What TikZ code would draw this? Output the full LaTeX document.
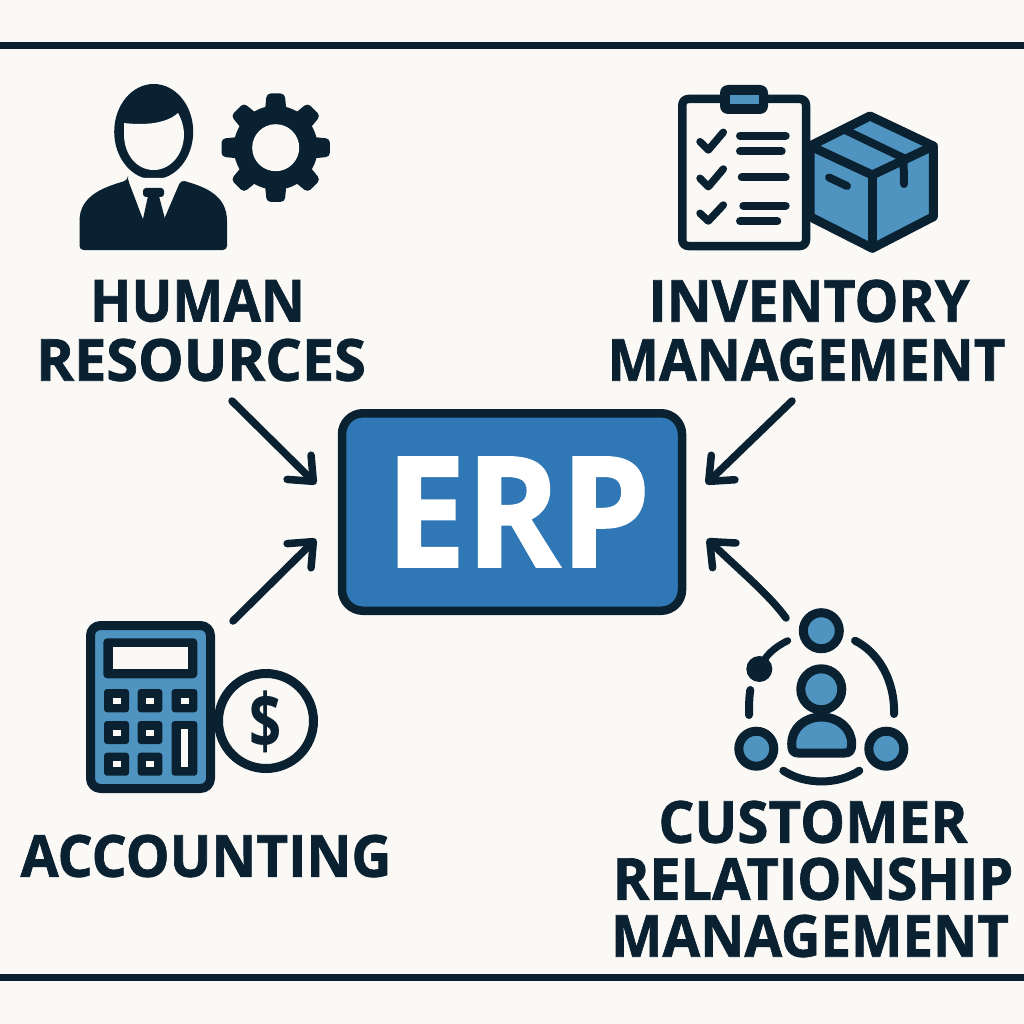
\documentclass[tikz,border=0pt]{standalone}
\usepackage{fontspec}
\setmainfont{Open Sans}
\newfontfamily\heavy[BoldFeatures={FakeBold=1.2}]{Open Sans}
\usetikzlibrary{arrows.meta}
\definecolor{bgc}{HTML}{FBF9F6}
\definecolor{ink}{HTML}{0A2131}
\definecolor{erpblue}{HTML}{2F78B5}
\definecolor{iconblue}{HTML}{4F94C0}
\newcommand\hs[2]{\scalebox{#1}[1]{#2}}
\tikzset{
  lab/.style={font=\fontsize{58}{60}\selectfont\heavy\bfseries, text=ink, inner sep=0pt, anchor=center},
  conn/.style={draw=ink, line width=7.5pt, line cap=round, line join=round, -{Straight Barb[length=20pt,width=34pt,line width=7.5pt,round]}},
  stk/.style={draw=ink, line cap=round, line join=round},
}
\begin{document}
\begin{tikzpicture}[x=1pt,y=-1pt]
\useasboundingbox (0,0) rectangle (1024,1024);
\fill[bgc] (0,0) rectangle (1024,1024);
\fill[ink] (0,42.5) rectangle (1024,49.5);
\fill[ink] (0,973.5) rectangle (1024,980.5);

% ERP box
\node[draw=ink, line width=8.5pt, fill=erpblue, rounded corners=21pt, minimum width=340pt, minimum height=197.5pt, inner sep=0pt, text=white, font=\fontsize{154}{156}\selectfont\heavy\bfseries] (erp) at (512,512) {\hspace*{12pt}\raisebox{-2.5pt}{\hs{0.93}{ERP}}};

% labels
\node[lab] (hr1) at (197.5,301) {\hs{0.934}{HUMAN}};
\node[lab] (hr2) at (201,360) {\hs{0.992}{RESOURCES}};
\node[lab] (inv1) at (809,301) {\hs{0.953}{INVENTORY}};
\node[lab] (inv2) at (806.5,360) {\hs{0.94}{MANAGEMENT}};
\node[lab] (acc) at (206,856) {\hs{0.952}{ACCOUNTING}};
\node[lab] (crm1) at (813,822) {\hs{0.976}{CUSTOMER}};
\node[lab] (crm2) at (813,879) {\hs{0.959}{RELATIONSHIP}};
\node[lab] (crm3) at (810,936) {\hs{0.94}{MANAGEMENT}};

% connectors
\coordinate (hrout) at (232,401); \coordinate (hrin) at (316,484);
\coordinate (invout) at (792,401); \coordinate (invin) at (706,484);
\coordinate (accout) at (233,621); \coordinate (accin) at (316,539);
\coordinate (crmout) at (786,618); \coordinate (crmin) at (707,539);
\draw[conn] (hrout) -- (hrin);
\draw[conn] (invout) -- (invin);
\draw[conn] (accout) -- (accin);
\draw[conn] (crmout) .. controls (770,596) and (745,575) .. (crmin);

% person
\fill[ink] (153.7,131.7) ellipse [x radius=39.5, y radius=47.7];
\fill[bgc] (124,123) .. controls (140,125) and (165,125) .. (178,113)
  .. controls (182,120) and (184,128) .. (184,134)
  .. controls (184,155) and (170,170) .. (153.7,170)
  .. controls (137,170) and (124,155) .. (124,134) -- cycle;
\fill[ink, rounded corners=4pt] (128,180) -- (143,219) -- (164,219) -- (181,180)
  .. controls (205,187) and (227,195) .. (227,225)
  -- (227,250) -- (79.5,250) -- (79.5,225)
  .. controls (79.5,195) and (105,187) .. cycle;
\fill[bgc] (128,178) -- (143,219) -- (164,219) -- (181,178) -- cycle;
\fill[ink] (148,196) -- (159,196) -- (165,219) -- (143,219) -- cycle;
\fill[ink, rounded corners=3pt] (143,188) rectangle (164,197);
\fill[ink] (143,218) rectangle (165,222);

% gear
\foreach \a in {0,45,...,315}
  \fill[ink, rounded corners=4pt, rotate around={\a:(275.7,147.7)}] (264,120) -- (266.7,93.5) -- (284.7,93.5) -- (287.4,120) -- cycle;
\fill[ink] (275.7,147.7) circle (42);
\fill[bgc] (275.7,147.7) circle (23.5);

% clipboard
\draw[stk, line width=8.5pt, fill=bgc, rounded corners=6pt] (682.3,99) rectangle (806,246);
\fill[ink, rounded corners=8pt] (720,85) rectangle (768,114);
\fill[iconblue] (730,95) rectangle (759,104);
\foreach \ya/\yb/\yc in {141.7/150/132.3, 178.3/186.7/169, 213.3/221/205}
  \draw[stk, line width=7.5pt] (700,\ya) -- (708.3,\yb) -- (723.3,\yc);
\draw[stk, line width=8pt] (740,135.7) -- (785.7,135.7);
\draw[stk, line width=8pt] (740,151.3) -- (781.7,151.3);
\draw[stk, line width=8pt] (741.7,177.3) -- (785.7,177.3);
\draw[stk, line width=8pt] (743.3,205.7) -- (785.7,205.7);
\draw[stk, line width=8pt] (740,221.3) -- (777.3,221.3);

% box
\draw[stk, line width=9pt, fill=iconblue] (870,116) -- (933.3,146) -- (933.3,216.7) -- (872.3,248.3) -- (810,216.7) -- (810,146) -- cycle;
\draw[stk, line width=9pt] (810,146) -- (872.3,175) -- (933.3,146);
\draw[stk, line width=9pt] (872.3,175) -- (872.3,248.3);
\draw[stk, line width=8pt] (845,130) -- (903.5,158) -- (904,184);
\draw[stk, line width=8pt] (829,177.5) -- (847,186);

% calculator
\draw[stk, line width=9pt, fill=iconblue, rounded corners=10pt] (90.5,625.5) rectangle (210.5,788.5);
\fill[ink, rounded corners=4pt] (103.3,638.3) rectangle (197.3,678.3);
\fill[bgc] (112.7,646.7) rectangle (188.3,669.3);
\foreach \xa/\xb in {104/129,137.7/162.3}
  \foreach \ya/\yb in {689/712.3,721/744,752.7/775.7}
    {\fill[ink, rounded corners=3pt] (\xa,\ya) rectangle (\xb,\yb);
     \fill[bgc] ({(\xa+\xb)/2-4},{(\ya+\yb)/2-3}) rectangle ({(\xa+\xb)/2+4},{(\ya+\yb)/2+3});}
\fill[ink, rounded corners=3pt] (171.7,689) rectangle (197.3,712.3);
\fill[bgc] (180.5,697.5) rectangle (188.5,703.5);
\fill[ink, rounded corners=3pt] (171.7,721) rectangle (197.3,775.7);
\fill[bgc] (180.7,729.3) rectangle (188.3,766.7);
% coin
\draw[draw=ink, line width=9pt, fill=bgc] (266,721) circle (47.5);
\node[text=ink, inner sep=0pt, font=\fontsize{76}{76}\selectfont\bfseries] (dollar) at (265.5,722) {\hs{0.74}{\$}};

% crm
\foreach \x/\y/\r in {821.3/630.7/18, 756.3/748.7/17.5, 886.3/748.7/17.5, 821.3/689.3/20.5}
  \draw[draw=ink, line width=9pt, fill=iconblue] (\x,\y) circle (\r);
\draw[stk, line width=9pt, fill=iconblue] (791.7,744) .. controls (791.7,728) and (805,717) .. (821.5,717) .. controls (838,717) and (851.7,728) .. (851.7,744) .. controls (851.7,750) and (850,753) .. (845,753) -- (798,753) .. controls (793,753) and (791.7,750) .. cycle;
\fill[ink] (759.3,669) circle (13);
\draw[stk, line width=7pt] (759.3,669) .. controls (765,655) and (775,647) .. (787.7,640.7);
\draw[stk, line width=8pt] (855,640.7) .. controls (878,652) and (895,680) .. (894,714);
\draw[stk, line width=8pt] (750.3,690) .. controls (749,698) and (749,706) .. (749,715);
\draw[stk, line width=8pt] (783.3,770.7) .. controls (805,785) and (838,785) .. (859.3,770.7);
\end{tikzpicture}
\end{document}
